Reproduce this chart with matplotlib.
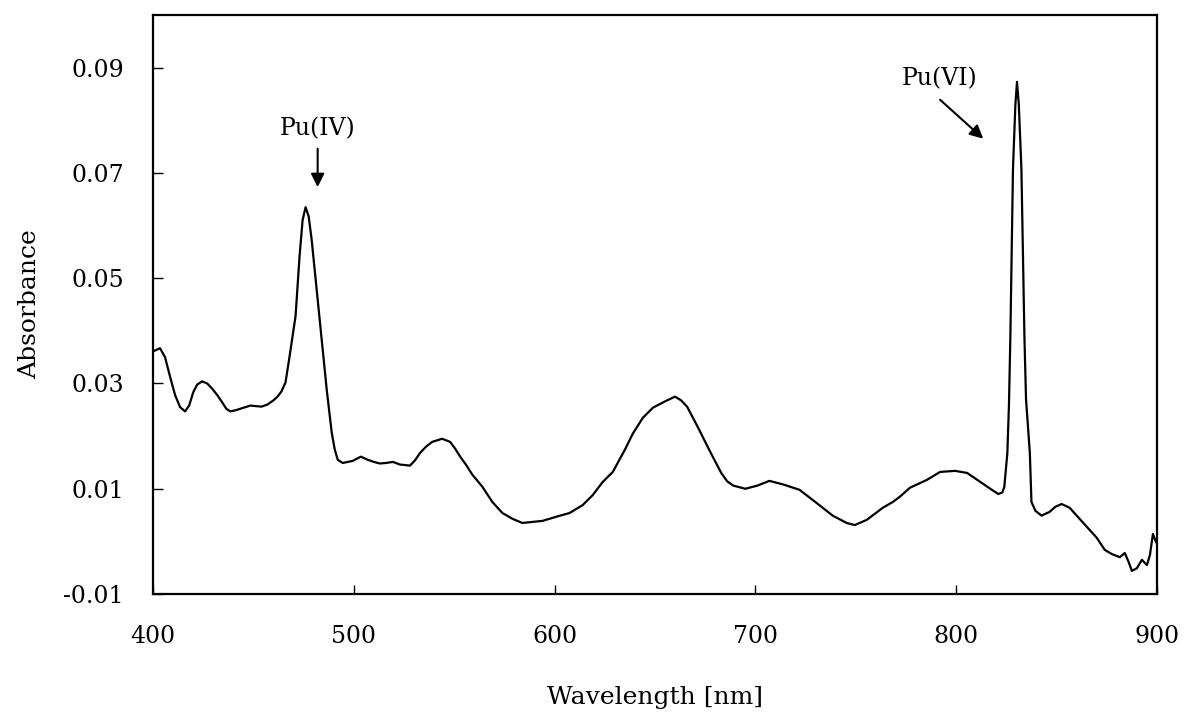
import matplotlib
matplotlib.use("Agg")
import matplotlib.pyplot as plt

# absorption spectrum, values
wavelength = [
    400, 403.5, 406, 408.5, 411, 413.5, 416, 418, 420, 422, 424.5, 427, 429.5,
    432, 434.5, 436.5, 438.5, 441, 443.5, 446, 448.5, 451, 454, 457, 460, 462,
    464, 466, 468, 469.5, 471, 473, 474.5, 476, 477.5, 479, 481.5, 484, 486.5,
    489, 490.5, 492, 494.5, 497, 499.5, 503.5, 507, 510, 513, 516, 519.5, 523,
    528, 530.5, 533, 536, 539, 544, 548, 550.5, 553, 556, 559, 564, 569, 574,
    579, 584, 589, 594, 601, 607.5, 614, 619, 624, 629, 635, 639, 644, 649,
    655, 660, 663, 666, 671.5, 677, 683, 686, 689, 695, 701, 707, 714, 722,
    730.5, 738.5, 745.5, 749.5, 755.5, 763.5, 768.5, 772, 777, 785.5, 792,
    799.5, 805.5, 812, 817, 821, 823, 824, 825.5, 826.3, 827, 828.3, 829.5,
    830.3, 831.2, 832.5, 834, 834.8, 836.7, 837.5, 839.5, 842.5, 846.5, 849.5,
    852.5, 856.5, 860.5, 865, 870, 874, 877.5, 881.5, 884, 886, 887.5, 890,
    892.5, 895, 896.5, 898, 899.5,
]
absorbance = [
    0.0361, 0.0367, 0.0350, 0.0313, 0.0278, 0.0255, 0.0247, 0.0258, 0.0283,
    0.0298, 0.0304, 0.0300, 0.0290, 0.0278, 0.0264, 0.0252, 0.0247, 0.0249,
    0.0252, 0.0255, 0.0258, 0.0257, 0.0256, 0.0260, 0.0268, 0.0275, 0.0285,
    0.0302, 0.0351, 0.0390, 0.0428, 0.0542, 0.0610, 0.0635, 0.0618, 0.0574,
    0.0479, 0.0384, 0.0289, 0.0207, 0.0175, 0.0155, 0.0149, 0.0151, 0.0153,
    0.0161, 0.0155, 0.0151, 0.0148, 0.0149, 0.0151, 0.0146, 0.0144, 0.0154,
    0.0168, 0.0180, 0.0189, 0.0195, 0.0189, 0.0176, 0.0161, 0.0145, 0.0127,
    0.0104, 0.0075, 0.0054, 0.0043, 0.0035, 0.0037, 0.0039, 0.0047, 0.0054,
    0.0069, 0.0088, 0.0113, 0.0132, 0.0174, 0.0205, 0.0235, 0.0254, 0.0266,
    0.0275, 0.0268, 0.0256, 0.0216, 0.0174, 0.0130, 0.0114, 0.0106, 0.0100,
    0.0106, 0.0115, 0.0108, 0.0098, 0.0073, 0.0049, 0.0035, 0.0031, 0.0041,
    0.0064, 0.0075, 0.0085, 0.0102, 0.0117, 0.0132, 0.0134, 0.0130, 0.0113,
    0.0100, 0.0090, 0.0093, 0.0104, 0.0168, 0.0260, 0.0389, 0.0708, 0.0830,
    0.0873, 0.0830, 0.0708, 0.0389, 0.0270, 0.0168, 0.0075, 0.0058, 0.0049,
    0.0056, 0.0066, 0.0071, 0.0064, 0.0047, 0.0028, 0.0007, -0.0016, -0.0024,
    -0.0030, -0.0022, -0.0040, -0.0056, -0.0051, -0.0035, -0.0045, -0.0026,
    0.0014, -0.0001,
]

xticks = [400, 500, 600, 700, 800, 900]
yticks = [-0.01, 0.01, 0.03, 0.05, 0.07, 0.09]
ytick_labels = ["-0.01", "0.01", "0.03", "0.05", "0.07", "0.09"]

plt.rcParams['font.family'] = ['DejaVu Serif']

fig = plt.figure(figsize=(11.86, 7.14), dpi=100)
ax = fig.add_axes([0.129, 0.168, 0.8465, 0.811])

ax.plot(wavelength, absorbance, color='black', linewidth=1.6)

ax.set_xlim(400, 900)
ax.set_ylim(-0.01, 0.10)
ax.set_xticks(xticks)
ax.set_xticklabels([str(t) for t in xticks])
ax.set_yticks(yticks)
ax.set_yticklabels(ytick_labels)
ax.tick_params(axis='both', direction='in', labelsize=17, width=1, color='black')
ax.tick_params(axis='x', length=6.5, pad=22)
ax.tick_params(axis='y', length=7, pad=21)
for s in ax.spines.values():
    s.set_linewidth(1.6)

ax.set_xlabel('Wavelength [nm]', fontsize=18, labelpad=28)
ax.set_ylabel('Absorbance', fontsize=18, labelpad=16)

# peak labels
arrow = dict(arrowstyle='-|>', color='black', lw=1.5, mutation_scale=20,
             shrinkA=0, shrinkB=0)
ax.text(482, 0.0784, 'Pu(IV)', ha='center', va='center', fontsize=17)
ax.annotate('', xy=(482, 0.0673), xytext=(482, 0.0746), arrowprops=arrow)
ax.text(792, 0.0879, 'Pu(VI)', ha='center', va='center', fontsize=17)
ax.annotate('', xy=(813.5, 0.0765), xytext=(792, 0.0839), arrowprops=arrow)

plt.savefig('out.png', dpi=100)
